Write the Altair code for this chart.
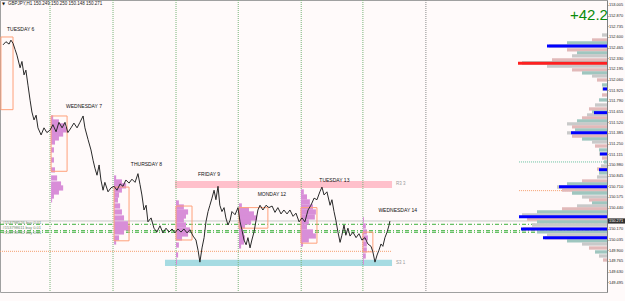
import altair as alt
import pandas as pd

# ---------------- data (hours since 6 Apr 05:00 broker time, prices GBPJPY) ----------------
bar_hour = [0.4, 1.5, 2.7, 3.4, 4.2, 5.0, 5.7, 6.9, 7.6, 8.4,
            9.1, 9.9, 10.7, 11.4, 12.2, 13.0, 13.7, 14.9, 16.0, 17.1,
            18.3, 19.4, 20.6, 21.7, 22.9, 24.0, 25.1, 26.3, 27.4, 28.6,
            29.7, 30.9, 31.6, 32.8, 33.9, 34.7, 35.4, 36.2, 37.0, 37.7,
            38.5, 39.2, 40.4, 41.5, 42.7, 43.8, 45.0, 46.1, 47.2, 48.4,
            49.5, 50.7, 51.8, 52.6, 53.3, 54.1, 54.9, 55.6, 56.8, 57.9,
            59.0, 60.2, 61.3, 62.5, 63.6, 64.8, 65.9, 67.0, 68.2, 69.3,
            70.5, 71.6, 72.8, 73.9, 74.7, 75.4, 76.2, 77.0, 77.7, 78.5,
            79.2, 80.0, 80.8, 81.5, 82.3, 83.0, 83.8, 84.6, 85.3, 86.1,
            86.9, 87.6, 88.8, 89.9, 90.7, 91.4, 92.2, 93.0, 93.7, 94.5,
            95.2, 96.0, 96.8, 97.5, 98.3, 99.4, 100.6, 101.7, 102.9, 104.0,
            105.1, 106.3, 107.4, 108.6, 109.7, 110.9, 112.0, 113.2, 114.3, 115.4,
            116.6, 117.7, 118.9, 120.0, 121.1, 121.9, 122.7, 123.8, 125.0, 125.7,
            126.5, 127.2, 128.0, 128.8, 129.5, 130.3, 131.0, 131.8, 132.6, 133.7,
            134.9, 136.0, 137.1, 138.3, 139.4, 140.6, 141.3, 142.1, 142.9, 143.6,
            144.4, 145.1, 145.9, 146.7, 147.4, 147.8]
bar_price = [152.50, 152.54, 152.51, 152.56, 152.52, 152.44, 152.37, 152.21, 152.29, 152.12,
             152.18, 151.99, 151.80, 151.65, 151.55, 151.61, 151.45, 151.36, 151.45, 151.39,
             151.42, 151.49, 151.40, 151.52, 151.45, 151.52, 151.39, 151.45, 151.51, 151.45,
             151.52, 151.60, 151.45, 151.30, 151.17, 151.04, 150.94, 150.85, 150.98, 150.79,
             150.66, 150.76, 150.64, 150.69, 150.71, 150.66, 150.74, 150.71, 150.79, 150.75,
             150.80, 150.76, 150.87, 150.73, 150.60, 150.41, 150.47, 150.26, 150.31, 150.18,
             150.13, 150.21, 150.12, 150.18, 150.13, 150.17, 150.12, 150.17, 150.13, 150.17,
             150.12, 150.16, 150.08, 150.03, 149.90, 149.75, 149.93, 150.06, 150.26, 150.39,
             150.47, 150.56, 150.66, 150.54, 150.71, 150.47, 150.39, 150.44, 150.31, 150.22,
             150.28, 150.39, 150.35, 150.44, 150.26, 150.16, 150.03, 149.97, 150.06, 149.93,
             150.03, 150.13, 150.28, 150.41, 150.47, 150.41, 150.47, 150.44, 150.46, 150.38,
             150.44, 150.36, 150.41, 150.36, 150.41, 150.33, 150.37, 150.26, 150.31, 150.26,
             150.41, 150.47, 150.56, 150.54, 150.64, 150.70, 150.60, 150.64, 150.47, 150.54,
             150.39, 150.28, 150.13, 150.00, 150.09, 150.22, 150.09, 150.18, 150.08, 150.13,
             150.06, 150.11, 150.03, 150.06, 149.98, 149.95, 149.88, 149.75, 149.84, 149.90,
             149.98, 149.95, 150.06, 150.13, 150.21, 150.27]
assert len(bar_hour) == len(bar_price)

x_tick_hours = [0, 8, 16, 24, 32, 40, 48, 56, 64, 72, 80, 88, 96, 104, 112, 120, 128, 136, 144]
x_tick_labels = ["6 Apr 2021", "6 Apr 13:00", "6 Apr 21:00", "7 Apr 05:00", "7 Apr 13:00",
                 "7 Apr 21:00", "8 Apr 05:00", "8 Apr 13:00", "8 Apr 21:00", "9 Apr 05:00",
                 "9 Apr 13:00", "9 Apr 21:00", "12 Apr 05:00", "12 Apr 13:00", "12 Apr 21:00",
                 "13 Apr 05:00", "13 Apr 13:00", "13 Apr 21:00", "14 Apr 05:00"]
y_tick_prices = [149.360, 149.495, 149.630, 149.765, 149.900, 150.035, 150.170,
                 150.440, 150.575, 150.710, 150.845, 150.980, 151.115, 151.250, 151.385,
                 151.520, 151.655, 151.790, 151.925, 152.060, 152.195, 152.330, 152.465,
                 152.600, 152.735, 152.870, 153.005]

day_sep_hours = [18.3, 42.3, 66.3, 90.0, 114.0, 137.5]
last_sep_hour = [161.5]

day_names = ["TUESDAY 6", "WEDNESDAY 7", "THURSDAY 8", "FRIDAY 9", "MONDAY 12", "TUESDAY 13", "WEDNESDAY 14"]
day_label_hour = [1.9, 24.4, 49.1, 74.7, 97.4, 120.9, 143.4]
day_label_price = [152.705, 151.727, 150.993, 150.866, 150.613, 150.790, 150.410]

box_h0 = [-0.4, 18.7, 42.7, 66.3, 90.3, 113.9, 137.5]
box_h1 = [4.2, 24.8, 48.4, 72.4, 101.3, 120.0, 141.3]
box_hi = [152.60, 151.60, 150.70, 150.46, 150.44, 150.44, 150.13]
box_lo = [151.68, 150.90, 150.02, 150.03, 150.18, 149.99, 149.88]

# session volume profiles: start hour, levels, widths (hours)
prof_start = {"Wed7": 18.7, "Thu8": 42.7, "Fri9": 66.3, "Mon12": 90.3, "Tue13": 113.9, "Wed14": 137.5}
prof_price = {
    "Wed7": [151.575, 151.524, 151.474, 151.423, 151.372, 151.322, 151.271, 151.170, 151.043, 150.917,
             150.815, 150.739, 150.689, 150.638, 150.587, 150.537],
    "Thu8": [150.815, 150.765, 150.714, 150.663, 150.600, 150.537, 150.461, 150.385, 150.309, 150.233,
             150.182, 150.132, 150.056, 150.005],
    "Fri9": [150.499, 150.448, 150.385, 150.334, 150.284, 150.220, 150.157, 150.106, 150.056, 149.967,
             149.841, 149.752],
    "Mon12": [150.461, 150.410, 150.360, 150.309, 150.258, 150.208, 150.157, 150.106, 150.056, 150.005,
              149.955],
    "Tue13": [150.638, 150.575, 150.512, 150.448, 150.385, 150.322, 150.258, 150.195, 150.132, 150.081,
              150.031, 149.980],
    "Wed14": [150.284, 150.208, 150.132, 150.056, 149.980, 149.904, 149.828, 149.752],
}
prof_width = {
    "Wed7": [0.8, 3.0, 5.3, 6.1, 4.6, 3.0, 1.5, 1.1, 1.1, 1.5, 2.3, 3.8, 4.6, 3.0, 1.1, 0.4],
    "Thu8": [0.8, 3.0, 4.6, 3.0, 1.9, 1.5, 2.3, 3.0, 3.8, 5.3, 6.1, 3.8, 1.9, 0.8],
    "Fri9": [1.1, 3.0, 4.6, 3.8, 3.0, 3.8, 5.3, 4.6, 2.3, 1.1, 0.8, 0.4],
    "Mon12": [1.1, 3.8, 5.7, 6.9, 4.6, 2.3, 1.5, 1.9, 2.3, 1.9, 0.8],
    "Tue13": [1.1, 2.3, 3.4, 4.6, 5.7, 5.3, 3.0, 2.3, 4.6, 5.7, 3.0, 0.8],
    "Wed14": [0.4, 1.1, 1.5, 1.9, 1.5, 1.5, 1.1, 0.4],
}

# right side market profile
vp_price = [152.625, 152.562, 152.524, 152.486, 152.436, 152.398, 152.360, 152.309, 152.271, 152.233,
            152.183, 152.145, 152.107, 152.056, 151.993, 151.942, 151.866, 151.803, 151.739, 151.689,
            151.651, 151.613, 151.575, 151.537, 151.499, 151.461, 151.423, 151.385, 151.347, 151.309,
            151.271, 151.220, 151.170, 151.119, 151.068, 151.018, 150.967, 150.929, 150.879, 150.828,
            150.777, 150.739, 150.701, 150.663, 150.625, 150.575, 150.537, 150.499, 150.461, 150.423,
            150.385, 150.347, 150.296, 150.258, 150.220, 150.170, 150.132, 150.094, 150.056, 150.018,
            149.980, 149.929, 149.879, 149.828, 149.777]
vp_volume = [5, 15, 40, 58, 40, 30, 35, 55, 85, 60,
             35, 25, 15, 10, 5, 5, 5, 8, 12, 18,
             15, 20, 25, 30, 40, 35, 32, 40, 35, 25,
             15, 12, 8, 8, 5, 3, 6, 10, 8, 10,
             25, 40, 50, 45, 35, 25, 18, 15, 30, 45,
             70, 85, 80, 70, 75, 84, 70, 60, 62, 40,
             25, 18, 12, 8, 4]
assert len(vp_price) == len(vp_volume)
vp_blue_price = [152.486, 151.942, 151.642, 151.389, 151.119, 150.920, 150.705, 150.325, 150.170, 150.060]
vp_blue_volume = [60, 4, 13, 36, 7, 8, 48, 88, 86, 64]
vp_red_price = [152.267]
vp_red_volume = [89]

order_prices = [150.229, 150.148, 150.128]
order_text_prices = [150.250, 150.180, 150.115]
order_texts = ["#153798526 buy 0.01", "#153798611 buy 0.01", "#153798702 buy 0.01"]
bid_price = 150.271

# ---------------- frames ----------------
X_DOM = [-0.76, 230.5]
Y_DOM = [149.372, 153.068]
xs = alt.Scale(domain=X_DOM, nice=False, zero=False)
ys = alt.Scale(domain=Y_DOM, nice=False, zero=False)
FONT = "Liberation Sans"

bars = pd.DataFrame({"h": bar_hour, "p": bar_price})
days = pd.DataFrame({"name": day_names, "h": day_label_hour, "p": day_label_price})
boxes = pd.DataFrame({"h0": box_h0, "h1": box_h1, "hi": box_hi, "lo": box_lo})
seps = pd.DataFrame({"h": day_sep_hours})
seps_last = pd.DataFrame({"h": last_sep_hour})
rows = []
for k, st in prof_start.items():
    for p, w in zip(prof_price[k], prof_width[k]):
        rows.append({"day": k, "a": p + 0.033, "b": p - 0.033, "x0": st, "x1": st + w})
prof = pd.DataFrame(rows)
vp_colors = ["#c9c9c9", "#e2b9b9", "#9fc6bf"]
vp = pd.DataFrame({"a": [p + 0.021 for p in vp_price], "b": [p - 0.021 for p in vp_price], "v": vp_volume,
                   "c": [vp_colors[i % 3] for i in range(len(vp_price))], "z": 0})
vpb = pd.DataFrame({"p": vp_blue_price, "v": vp_blue_volume, "z": 0})
vpr = pd.DataFrame({"p": vp_red_price, "v": vp_red_volume, "z": 0})
orders = pd.DataFrame({"p": order_text_prices, "t": order_texts, "h": 0.2})

label_expr = "[" + ",".join("'%s'" % s for s in x_tick_labels) + "][round(datum.value/8)]"
x_axis = alt.Axis(values=x_tick_hours, labelExpr=label_expr, labelAlign="left", labelFontSize=4.5,
                  labelFont=FONT, labelColor="#222", tickSize=2, labelPadding=1, domainColor="#808080",
                  tickColor="#808080", grid=False, title=None, labelFlush=False, labelOverlap=False)
y_axis = alt.Axis(values=y_tick_prices, format=".3f", orient="right", labelFontSize=3.9, labelFont=FONT,
                  labelColor="#222", tickSize=1, labelPadding=0.5, domainColor="#808080",
                  tickColor="#808080", grid=False, title=None, labelOverlap=False)


def X(f, axis=None):
    return alt.X(f, type="quantitative", scale=xs, axis=axis)


def Y(f):
    return alt.Y(f, type="quantitative", scale=ys, axis=y_axis)


pink_band = alt.Chart(pd.DataFrame({"h0": [65.9], "h1": [148.6], "a": [150.777], "b": [150.689]})).mark_rect(
    color="#ffc0cb").encode(x=X("h0"), x2="h1", y=Y("a"), y2="b")
cyan_band = alt.Chart(pd.DataFrame({"h0": [62.1], "h1": [148.6], "a": [149.779], "b": [149.702]})).mark_rect(
    color="#a6dbe2").encode(x=X("h0"), x2="h1", y=Y("a"), y2="b")
band_text = alt.Chart(pd.DataFrame({"h": [150.1, 150.1], "p": [150.733, 149.742], "t": ["R3 3", "S3 1"]})).mark_text(
    align="left", baseline="middle", fontSize=4.5, font=FONT, color="#999").encode(x=X("h"), y=Y("p"), text="t:N")

separators = alt.Chart(seps).mark_rule(color="#79b479", strokeDash=[1, 1], strokeWidth=1).encode(x=X("h"))
separator_last = alt.Chart(seps_last).mark_rule(color="#8a8a8a", strokeDash=[1, 1], strokeWidth=1).encode(x=X("h"))

bid_line = alt.Chart(pd.DataFrame({"p": [bid_price]})).mark_rule(color="#c8c8c8", strokeWidth=1).encode(y=Y("p"))
green_lines = alt.Chart(pd.DataFrame({"p": order_prices})).mark_rule(
    color="#3cb03c", strokeDash=[4, 2, 1, 2], strokeWidth=1).encode(y=Y("p"))
orange_dot = alt.Chart(pd.DataFrame({"h0": [-0.76, 197.0], "h1": [148.6, 230.5], "p": [149.887, 150.655]})).mark_rule(
    color="#f4a070", strokeDash=[1, 1], strokeWidth=1).encode(x=X("h0"), x2="h1", y=Y("p"))
green_dot = alt.Chart(pd.DataFrame({"h0": [197.0], "h1": [230.5], "p": [151.018]})).mark_rule(
    color="#66c0a0", strokeDash=[1, 1], strokeWidth=1).encode(x=X("h0"), x2="h1", y=Y("p"))

profiles = alt.Chart(prof).mark_rect(color="#d88ed8").encode(
    y=Y("a"), y2="b", x=X("x0"), x2="x1")

session_boxes = alt.Chart(boxes).mark_rect(fillOpacity=0, stroke="#ffa07a", strokeWidth=1).encode(
    x=X("h0"), x2="h1", y=Y("hi"), y2="lo")

price_line = alt.Chart(bars).mark_line(color="#2a2a2a", strokeWidth=1).encode(x=X("h", x_axis), y=Y("p"))

day_text = alt.Chart(days).mark_text(align="left", baseline="middle", fontSize=5, font=FONT, color="#111").encode(
    x=X("h"), y=Y("p"), text="name:N")
order_text = alt.Chart(orders).mark_text(align="left", baseline="middle", fontSize=4, font=FONT, color="#6a8a6a").encode(
    x=X("h"), y=Y("p"), text="t:N")

title_text = alt.Chart(pd.DataFrame({"t": ["GBPJPY,H1  150.249 150.250 150.148 150.271"]})).mark_text(
    align="left", baseline="middle", fontSize=4.5, font=FONT, color="#222").encode(
    x=alt.value(8), y=alt.value(4), text="t:N")
title_mark = alt.Chart(pd.DataFrame({"t": ["\u25bc"]})).mark_text(
    align="left", baseline="middle", fontSize=4, font="DejaVu Sans", color="#111").encode(
    x=alt.value(2), y=alt.value(4), text="t:N")
profit_text = alt.Chart(pd.DataFrame({"t": ["+42.2"]})).mark_text(
    align="left", baseline="middle", fontSize=15, font=FONT, color="#0a8a0a").encode(
    x=alt.value(570), y=alt.value(15), text="t:N")

bid_box = alt.Chart(pd.DataFrame({"a": [bid_price + 0.033], "b": [bid_price - 0.033]})).mark_rect(
    color="#303030").encode(x=alt.value(608), x2=alt.value(625), y=Y("a"), y2="b")
bid_text = alt.Chart(pd.DataFrame({"p": [bid_price], "t": ["%.3f" % bid_price]})).mark_text(
    align="left", baseline="middle", fontSize=3.9, font=FONT, color="#ffffff").encode(
    x=alt.value(609), y=Y("p"), text="t:N")

main = alt.layer(pink_band, cyan_band, band_text, separators, separator_last, bid_line, green_lines,
                 orange_dot, green_dot, profiles, session_boxes, price_line, day_text, order_text,
                 title_mark, title_text, profit_text)

vs = alt.Scale(domain=[0, 607], reverse=True, nice=False, zero=False)
vp_layer = alt.Chart(vp).mark_rect().encode(
    x=alt.X("z:Q", scale=vs, axis=None), x2="v", y=Y("a"), y2="b", color=alt.Color("c:N", scale=None))
vpb_layer = alt.Chart(vpb).mark_rule(strokeWidth=3, color="#0000ff").encode(
    x=alt.X("z:Q", scale=vs, axis=None), x2="v", y=Y("p"))
vpr_layer = alt.Chart(vpr).mark_rule(strokeWidth=3, color="#ff2020").encode(
    x=alt.X("z:Q", scale=vs, axis=None), x2="v", y=Y("p"))
right_prof = alt.layer(vp_layer, vpb_layer, vpr_layer, bid_box, bid_text)

chart = alt.layer(main, right_prof).resolve_scale(x="independent").properties(
    width=607, height=292,
    autosize=alt.AutoSizeParams(type="none"),
    padding={"left": 0, "top": 0, "right": 18, "bottom": 9},
    background="#fffafa",
).configure_view(stroke="#a0a0a0", strokeWidth=1, fill="#fffafa")

chart.save("out.html", embed_options={"renderer": "svg", "actions": False})
